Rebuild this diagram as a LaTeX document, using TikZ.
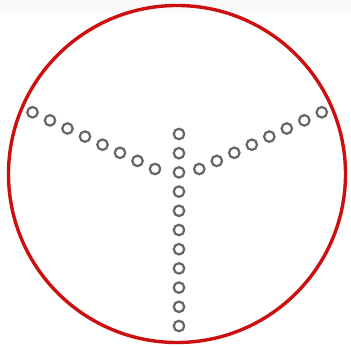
\documentclass[tikz,border=0pt]{standalone}
\usepackage{xcolor}
\usepackage{tikz}
\definecolor{rimred}{HTML}{CC1010}
\definecolor{ringgray}{HTML}{666666}

\begin{document}
\begin{tikzpicture}[
        x=1pt,
        y=-1pt,
        rim/.style={draw=rimred, line width=3.4pt},
        ring/.style={circle, draw=ringgray, line width=2.2pt, fill=white,
                     minimum size=10.5pt, inner sep=0pt}
    ]
        \useasboundingbox (0,0) rectangle (351,347);
        \fill[black!2] (0,0) rectangle (351,13);

        \coordinate (hub) at (177,174);
        \draw[rim] (hub) circle[radius=168.5pt];

        % stem going down
        \foreach \i in {0,...,10}
            \node[ring] (stem\i) at (179,134+19.2*\i) {};

        % the two arms
        \foreach \i in {0,...,7} {
            \node[ring] (left\i) at (155-17.5*\i,169-8.1*\i) {};
            \node[ring] (right\i) at (199.3+17.5*\i,169-8.1*\i) {};
        }
    \end{tikzpicture}
\end{document}
